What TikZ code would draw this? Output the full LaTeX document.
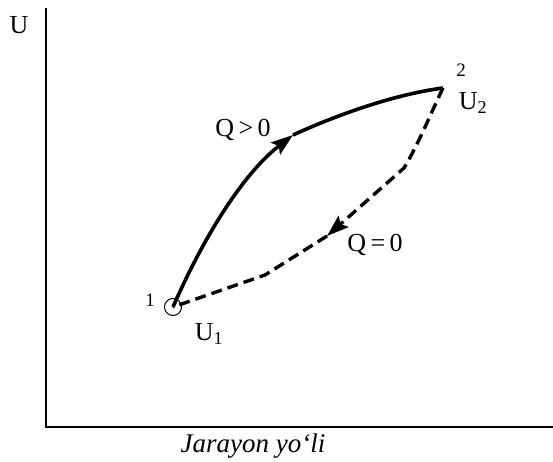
\documentclass[tikz,border=0pt]{standalone}
\usepackage{fontspec}
\setmainfont{Liberation Serif}
\usetikzlibrary{arrows.meta}
\tikzset{
  axis/.style={line width=1.4pt},
  lbl/.style={inner sep=0pt, font=\fontsize{26}{30}\selectfont},
  small/.style={inner sep=0pt, font=\fontsize{19}{22}\selectfont},
  solidpath/.style={line width=3.6pt},
  dashpath/.style={line width=3.4pt, dash pattern=on 11pt off 6pt},
  tip/.style={-{Stealth[length=22pt,width=15pt,inset=4pt]}}
}
\begin{document}
\begin{tikzpicture}[x=1pt,y=-1pt]
\useasboundingbox (0,0) rectangle (553,462);
% axes
\coordinate (O) at (46,427);
\coordinate (Ytop) at (46,8);
\coordinate (Xend) at (553,427);
\draw[axis] (Ytop) -- (O) -- (Xend);
\node[lbl] (ulab) at (19,25) {U};
\node[lbl, font=\fontsize{27}{30}\selectfont\itshape] (xlab) at (253,446) {Jarayon yo‘li};
% states
\node[draw, circle, line width=1pt, minimum size=17pt, inner sep=0pt] (p1) at (173,307) {};
\coordinate (p2) at (443,88);
\node[small] (n1) at (150,300) {1};
\node[small] (n2) at (461,70) {2};
\node[lbl] (u1) at (209,334) {U\textsubscript{1}};
\node[lbl] (u2) at (473,103) {U\textsubscript{2}};
% solid process Q>0
\coordinate (a1) at (293,135);
\draw[solidpath, tip] (p1.center) .. controls (200,245) and (240,176) .. (a1);
\draw[solidpath] (a1) .. controls (330,118) and (390,95) .. (p2);
\node[lbl] (qpos) at (243,130) {Q\,>\,0};
% dashed process Q=0
\coordinate (d3) at (404,168);
\coordinate (d2) at (327,236);
\coordinate (d1) at (265,275);
\draw[dashpath, tip] (p2) .. controls (430,115) and (418,145) .. (d3) -- (d2);
\draw[dashpath] (d2) -- (d1) -- (p1.center);
\node[lbl] (qzero) at (375,245) {Q\,=\,0};
\end{tikzpicture}
\end{document}
